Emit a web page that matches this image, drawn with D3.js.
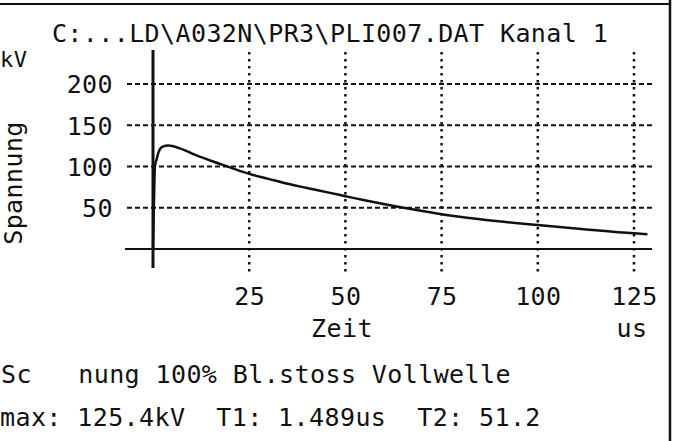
<html>
  <head>
    <meta charset="utf-8">
    <script src="https://cdn.jsdelivr.net/npm/d3@7"></script>
    <style type="text/css">
      body {
        margin: 0;
        padding: 0;
        background: #fff;
      }
      svg text {
        font-family: 'DejaVu Sans Mono', monospace;
        letter-spacing: 0.4px;
        fill: #111;
      }
    </style>
  </head>
  <body>
    <svg id="chart" width="675" height="441"></svg>
    <script>
      /* Data */
      const title = 'C:...LD\\A032N\\PR3\\PLI007.DAT Kanal 1'
      const timeUs = [0, 0.2, 0.5, 0.9, 1.5, 2.5, 4, 7, 11, 15, 20, 25, 30, 35, 40, 46, 50, 55, 64, 70, 75, 85, 100, 112, 125, 128.5]
      const voltKv = [0, 45, 100, 108, 118, 124, 125.4, 122, 114, 107, 99, 91, 85, 79, 74, 68, 64, 59, 51, 46, 42, 36, 29, 24, 19, 18]
      const xTicks = [25, 50, 75, 100, 125]
      const yTicks = [50, 100, 150, 200]
      const infoLine1 = ['Sc', 'nung 100% Bl.stoss Vollwelle']
      const infoLine2 = 'max: 125.4kV  T1: 1.489us  T2: 51.2'

      const svg = d3.select('#chart')
      const ink = '#111'
      const fontSize = 25
      const charW = 15.45

      const x = d3.scaleLinear().domain([0, 125]).range([153, 634])
      const y = d3.scaleLinear().domain([0, 200]).range([249, 84])

      /* page frame */
      svg.append('line')
        .attr('x1', 0).attr('x2', 671).attr('y1', 4).attr('y2', 4)
        .attr('stroke', ink).attr('stroke-width', 2)
      svg.append('line')
        .attr('x1', 670).attr('x2', 670).attr('y1', 0).attr('y2', 441)
        .attr('stroke', ink).attr('stroke-width', 2.5)

      /* grid */
      svg.append('g')
        .selectAll('line')
        .data(yTicks)
        .join('line')
        .attr('x1', 127).attr('x2', 652)
        .attr('y1', d => y(d)).attr('y2', d => y(d))
        .attr('stroke', ink).attr('stroke-width', 2)
        .attr('stroke-dasharray', '5,3')

      svg.append('g')
        .selectAll('line')
        .data(xTicks)
        .join('line')
        .attr('x1', d => x(d)).attr('x2', d => x(d))
        .attr('y1', 52).attr('y2', 272)
        .attr('stroke', ink).attr('stroke-width', 2.5)
        .attr('stroke-dasharray', '2.5,4.5')

      /* axes lines */
      svg.append('line')
        .attr('x1', 125).attr('x2', 652)
        .attr('y1', y(0)).attr('y2', y(0))
        .attr('stroke', ink).attr('stroke-width', 2)
      svg.append('line')
        .attr('x1', x(0)).attr('x2', x(0))
        .attr('y1', 50).attr('y2', 268)
        .attr('stroke', ink).attr('stroke-width', 3)

      /* tick labels */
      const yAxis = svg.append('g')
        .attr('transform', `translate(${x(0)},0)`)
        .call(d3.axisLeft(y).tickValues(yTicks).tickSize(0).tickPadding(40))
      const xAxis = svg.append('g')
        .attr('transform', `translate(0,${y(0)})`)
        .call(d3.axisBottom(x).tickValues(xTicks).tickSize(0).tickPadding(0))
      yAxis.select('.domain').remove()
      xAxis.select('.domain').remove()
      yAxis.selectAll('text')
        .attr('font-size', fontSize).attr('fill', ink).attr('dy', '0.35em')
        .style('font-family', "'DejaVu Sans Mono', monospace")
      xAxis.selectAll('text')
        .attr('font-size', fontSize).attr('fill', ink).attr('y', 56).attr('dy', 0)
        .style('font-family', "'DejaVu Sans Mono', monospace")

      /* the impulse */
      const pts = timeUs.map((t, i) => [t, voltKv[i]])
      svg.append('path')
        .datum(pts)
        .attr('fill', 'none')
        .attr('stroke', ink)
        .attr('stroke-width', 2.5)
        .attr('stroke-linejoin', 'round')
        .attr('d', d3.line().x(d => x(d[0])).y(d => y(d[1])).curve(d3.curveMonotoneX))

      /* texts */
      svg.append('text')
        .attr('x', 330).attr('y', 42)
        .attr('text-anchor', 'middle')
        .attr('font-size', fontSize)
        .text(title)

      svg.append('text')
        .attr('x', 0).attr('y', 67)
        .attr('font-size', 22)
        .text('kV')

      svg.append('text')
        .attr('transform', 'translate(22,183) rotate(-90)')
        .attr('text-anchor', 'middle')
        .attr('font-size', fontSize)
        .text('Spannung')

      svg.append('text')
        .attr('x', 342).attr('y', 337)
        .attr('text-anchor', 'middle')
        .attr('font-size', fontSize)
        .text('Zeit')

      svg.append('text')
        .attr('x', 632).attr('y', 337)
        .attr('text-anchor', 'middle')
        .attr('font-size', fontSize)
        .text('us')

      svg.append('text')
        .attr('x', 1).attr('y', 383)
        .attr('font-size', fontSize)
        .text(infoLine1[0])
      svg.append('text')
        .attr('x', 1 + 5 * charW).attr('y', 383)
        .attr('font-size', fontSize)
        .text(infoLine1[1])

      svg.append('text')
        .attr('x', 0).attr('y', 426)
        .attr('font-size', fontSize)
        .style('white-space', 'pre')
        .text(infoLine2)
    </script>
  </body>
</html>
